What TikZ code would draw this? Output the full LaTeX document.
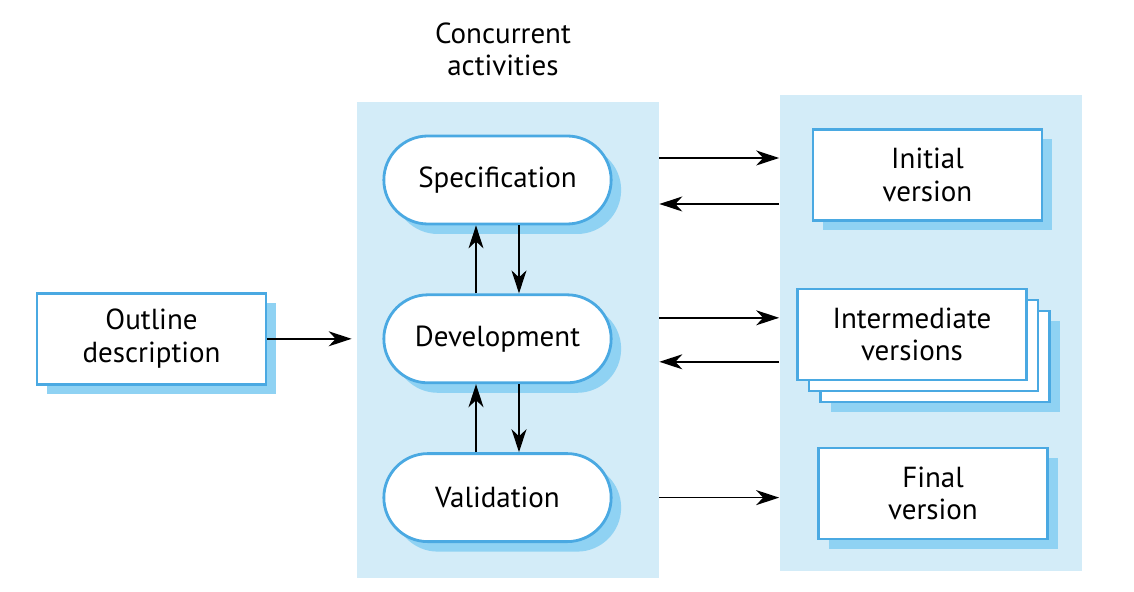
\documentclass[tikz,border=0pt]{standalone}
\usepackage{fontspec}
\setmainfont{PT Sans}
\usetikzlibrary{arrows.meta,positioning,shapes.misc,shadows}
\definecolor{panelblue}{HTML}{D3ECF8}
\definecolor{edgeblue}{HTML}{4AA9E2}
\definecolor{shadeblue}{HTML}{8FD2F3}

\begin{document}
\begin{tikzpicture}[
    font=\fontsize{16.5}{18.5}\selectfont,
    node distance=1.36cm,
    panel/.style={fill=panelblue, minimum width=6.04cm, minimum height=9.52cm, inner sep=0pt},
    shade/.style={drop shadow={shadow xshift=0.2cm, shadow yshift=-0.2cm, fill=shadeblue, opacity=1}},
    pill/.style={rounded rectangle, draw=edgeblue, line width=1.6pt, fill=white, minimum width=4.78cm, minimum height=1.76cm, shade},
    box/.style={draw=edgeblue, line width=1.6pt, fill=white, align=center, minimum width=4.58cm, minimum height=1.82cm},
    arr/.style={-{Stealth[length=4.6mm, width=3mm, inset=1.4mm]}, line width=0.8pt}
  ]
    \useasboundingbox (0,0) rectangle (22.68,11.84);

    \node[panel] (act) at (10.16,5.04) {};
    \node[panel] (out) at (18.61,5.18) {};
    \node[align=center] (title) at (10.06,10.85) {Concurrent\\activities};

    \node[pill] (spec) at (9.95,8.24) {Specification};
    \node[pill, below=of spec] (dev) {Development};
    \node[pill, below=of dev] (val) {Validation};
    \node[box, shade, left=2.3cm of dev] (outline) {Outline\\description};

    \node[box, shade] (init) at (18.55,8.34) {Initial\\version};
    \node[box, shade] (inter3) at (18.70,4.71) {};
    \node[box] (inter2) at (18.47,4.93) {};
    \node[box] (inter) at (18.24,5.15) {Intermediate\\versions};
    \node[box, shade] (final) at (18.66,1.97) {Final\\version};

    \draw[arr] (outline.east) -- ([xshift=-1mm]act.west |- outline.east);

    \draw[arr] ([xshift=-0.43cm]dev.north) -- ([xshift=-0.43cm]spec.south);
    \draw[arr] ([xshift=0.43cm]spec.south) -- ([xshift=0.43cm]dev.north);
    \draw[arr] ([xshift=-0.43cm]val.north) -- ([xshift=-0.43cm]dev.south);
    \draw[arr] ([xshift=0.43cm]dev.south) -- ([xshift=0.43cm]val.north);

    \draw[arr] ([yshift=0.44cm]spec.east -| act.east) -- ([yshift=0.44cm]spec.east -| out.west);
    \draw[arr] ([yshift=-0.48cm]spec.east -| out.west) -- ([yshift=-0.48cm]spec.east -| act.east);
    \draw[arr] ([yshift=0.42cm]dev.east -| act.east) -- ([yshift=0.42cm]dev.east -| out.west);
    \draw[arr] ([yshift=-0.46cm]dev.east -| out.west) -- ([yshift=-0.46cm]dev.east -| act.east);
    \draw[arr] (val.east -| act.east) -- (val.east -| out.west);
  \end{tikzpicture}
\end{document}
